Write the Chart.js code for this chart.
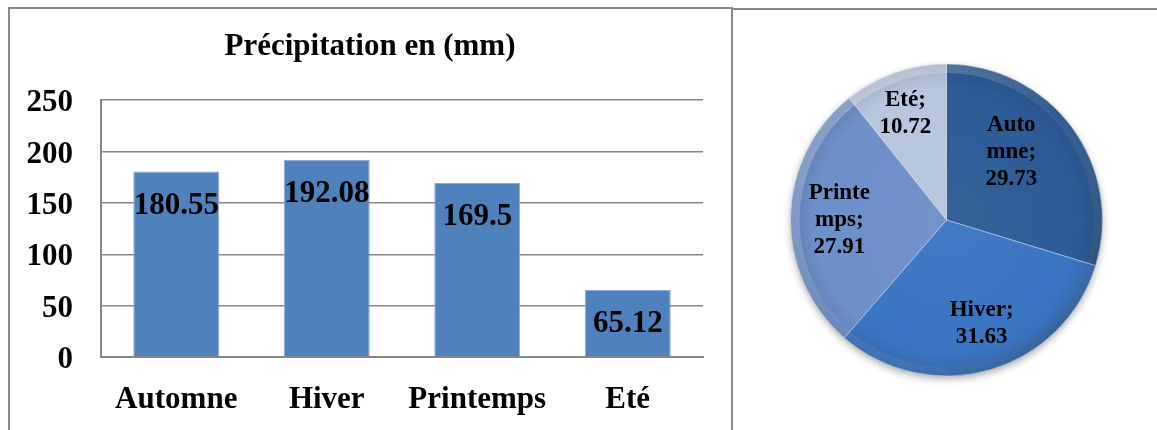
<!DOCTYPE html>
<html>
<head>
<meta charset="utf-8">
<title>Précipitation en (mm)</title>
<script src="https://cdn.jsdelivr.net/npm/chart.js@4.4.0/dist/chart.umd.min.js"></script>
<style>
  html, body { margin: 0; padding: 0; background: #fff; width: 1157px; height: 430px; overflow: hidden; }
  .frame { position: absolute; border: 2px solid #8a8a8a; box-sizing: border-box; }
  #barFrame { left: 8px; top: 7px; width: 725px; height: 440px; }
  #pieFrame { left: 731px; top: 8px; width: 440px; height: 440px; }
  canvas { position: absolute; }
  #barCanvas { left: 10px; top: 10px; }
  #pieCanvas { left: 733px; top: 10px; }
</style>
</head>
<body>
<div class="frame" id="barFrame"></div>
<div class="frame" id="pieFrame"></div>
<canvas id="barCanvas" width="720" height="420"></canvas>
<canvas id="pieCanvas" width="424" height="420"></canvas>
<script>
// Seasonal precipitation (mm) and each season's share of the yearly total (%)
const categories = ['Automne', 'Hiver', 'Printemps', 'Eté'];
const precipitation = [180.55, 192.08, 169.5, 65.12];
const yTicks = [0, 50, 100, 150, 200, 250];
const sharePercent = [29.73, 31.63, 27.91, 10.72];
const pieLabelLines = [['Auto', 'mne;'], ['Hiver;'], ['Printe', 'mps;'], ['Eté;']];
const chartTitle = 'Précipitation en (mm)';

const SERIF = "'Liberation Serif', 'Times New Roman', serif";
const GRID = '#878787';

// Value printed inside the top of each bar
const barValueLabels = {
  id: 'barValueLabels',
  afterDatasetsDraw(chart, args, opts) {
    const ctx = chart.ctx;
    const ds = chart.data.datasets[0];
    ctx.save();
    ctx.font = opts.font;
    ctx.fillStyle = opts.color;
    ctx.textAlign = 'center';
    ctx.textBaseline = 'alphabetic';
    chart.getDatasetMeta(0).data.forEach((bar, i) => {
      ctx.fillText(String(ds.data[i]), bar.x, bar.y + opts.baselineOffset);
    });
    ctx.restore();
  }
};

new Chart(document.getElementById('barCanvas'), {
  type: 'bar',
  data: {
    labels: categories,
    datasets: [{
      data: precipitation,
      backgroundColor: '#4f81bd',
      borderColor: '#8eaad6',
      borderWidth: 1,
      barPercentage: 0.571,
      categoryPercentage: 1
    }]
  },
  options: {
    responsive: false,
    animation: false,
    layout: { padding: 0 },
    plugins: {
      legend: { display: false },
      tooltip: { enabled: false },
      title: {
        display: true,
        text: chartTitle,
        color: '#000',
        font: { family: SERIF, size: 31, weight: 'bold' },
        padding: { top: 18, bottom: 35 }
      },
      barValueLabels: { font: 'bold 31px ' + SERIF, color: '#000', baselineOffset: 42 }
    },
    scales: {
      x: {
        grid: { display: false, drawTicks: false },
        border: { display: true, color: GRID, width: 2 },
        ticks: { color: '#000', font: { family: SERIF, size: 31, weight: 'bold' }, padding: 24 },
        afterFit(scale) { scale.height = 73; }
      },
      y: {
        min: yTicks[0],
        max: yTicks[yTicks.length - 1],
        afterBuildTicks(scale) { scale.ticks = yTicks.map(v => ({ value: v })); },
        grid: { color: GRID, lineWidth: 1.5, drawTicks: false },
        border: { display: true, color: GRID, width: 2 },
        ticks: { color: '#000', font: { family: SERIF, size: 31, weight: 'bold' }, padding: 28, labelOffset: 3 },
        afterFit(scale) { scale.width = 91; }
      },
      // empty right-hand margin of the plot
      yRight: {
        position: 'right',
        grid: { display: false, drawTicks: false },
        border: { display: false },
        ticks: { display: false },
        afterFit(scale) { scale.width = 27; }
      }
    }
  },
  plugins: [barValueLabels]
});

// Pie slices: base colours, soft drop shadow, bevelled rim and in-slice labels
const pieColors = ['#2d5b96', '#3a75c3', '#6d8fca', '#b7c6de'];

function shade(hex, amt) {
  const n = parseInt(hex.slice(1), 16);
  let r = n >> 16, g = (n >> 8) & 255, b = n & 255;
  const t = amt < 0 ? 0 : 255, p = Math.abs(amt);
  r = Math.round(r + (t - r) * p); g = Math.round(g + (t - g) * p); b = Math.round(b + (t - b) * p);
  return `rgb(${r},${g},${b})`;
}

const pieDecor = {
  id: 'pieDecor',
  beforeDatasetsDraw(chart) {
    const arc = chart.getDatasetMeta(0).data[0];
    if (!arc) return;
    const ctx = chart.ctx;
    ctx.save();
    ctx.shadowColor = 'rgba(0,0,0,0.4)';
    ctx.shadowBlur = 9;
    ctx.shadowOffsetY = 3;
    ctx.beginPath();
    ctx.arc(arc.x, arc.y, arc.outerRadius - 1, 0, Math.PI * 2);
    ctx.fillStyle = '#4a6fa5';
    ctx.fill();
    ctx.restore();
  },
  afterDatasetsDraw(chart, args, opts) {
    const arc = chart.getDatasetMeta(0).data[0];
    if (!arc) return;
    const ctx = chart.ctx;
    const R = arc.outerRadius;
    ctx.save();
    ctx.beginPath();
    ctx.arc(arc.x, arc.y, R, 0, Math.PI * 2);
    ctx.arc(arc.x, arc.y, R - opts.rim, 0, Math.PI * 2, true);
    const g = ctx.createLinearGradient(arc.x - R, arc.y - R, arc.x + R, arc.y + R);
    g.addColorStop(0, 'rgba(255,255,255,0.32)');
    g.addColorStop(0.5, 'rgba(255,255,255,0.06)');
    g.addColorStop(1, 'rgba(0,0,0,0.22)');
    ctx.fillStyle = g;
    ctx.fill('evenodd');
    ctx.restore();
  }
};

const pieLabels = {
  id: 'pieLabels',
  afterDatasetsDraw(chart, args, opts) {
    const ctx = chart.ctx;
    const ds = chart.data.datasets[0];
    ctx.save();
    ctx.font = opts.font;
    ctx.fillStyle = opts.color;
    ctx.textAlign = 'center';
    ctx.textBaseline = 'middle';
    chart.getDatasetMeta(0).data.forEach((arc, i) => {
      const mid = (arc.startAngle + arc.endAngle) / 2;
      const r = arc.outerRadius * opts.radiusRatio;
      const sh = opts.shift[i] || [0, 0];
      const cx = arc.x + Math.cos(mid) * r + sh[0];
      const cy = arc.y + Math.sin(mid) * r + sh[1];
      const lines = pieLabelLines[i].concat(String(ds.data[i]));
      const top = cy - (lines.length - 1) * opts.lineHeight / 2;
      lines.forEach((t, k) => ctx.fillText(t, cx, top + k * opts.lineHeight));
    });
    ctx.restore();
  }
};

new Chart(document.getElementById('pieCanvas'), {
  type: 'pie',
  data: {
    labels: categories,
    datasets: [{
      data: sharePercent,
      backgroundColor(c) {
        const chart = c.chart;
        const area = chart.chartArea;
        const base = pieColors[c.dataIndex];
        if (!area) return base;
        const cx = (area.left + area.right) / 2, cy = (area.top + area.bottom) / 2;
        const R = Math.min(area.right - area.left, area.bottom - area.top) / 2;
        const g = chart.ctx.createRadialGradient(cx, cy, 0, cx, cy, R);
        g.addColorStop(0, shade(base, 0.04));
        g.addColorStop(0.85, base);
        g.addColorStop(1, shade(base, -0.12));
        return g;
      },
      borderColor: 'rgba(235,242,250,0.45)',
      borderWidth: 1
    }]
  },
  options: {
    responsive: false,
    animation: false,
    layout: { padding: { left: 57, right: 54, top: 53, bottom: 53 } },
    plugins: {
      legend: { display: false },
      tooltip: { enabled: false },
      pieDecor: { rim: 9 },
      pieLabels: {
        font: 'bold 23px ' + SERIF,
        color: '#000',
        lineHeight: 27,
        radiusRatio: 0.7,
        shift: [[-23, -3], [5, -1], [2, 2], [-5, -3]]
      }
    }
  },
  plugins: [pieDecor, pieLabels]
});
</script>
</body>
</html>
